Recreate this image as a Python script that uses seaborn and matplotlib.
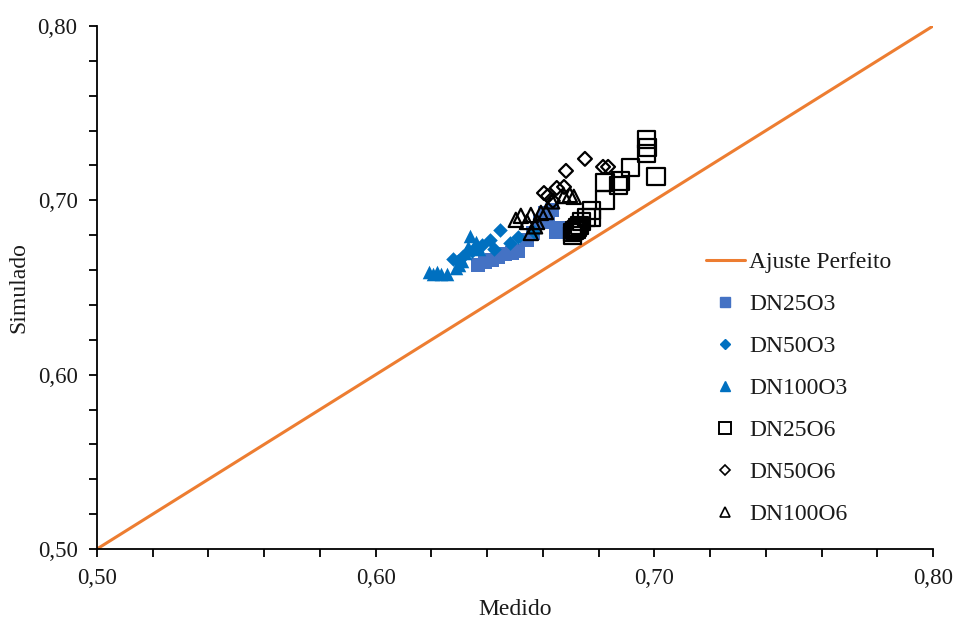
import matplotlib
matplotlib.use("Agg")
import matplotlib.pyplot as plt
from matplotlib.lines import Line2D
from matplotlib.ticker import MultipleLocator, FuncFormatter
import seaborn as sns

# Medido (x) and Simulado (y) for each series
dn25o3_x = [0.6367, 0.6392, 0.6417, 0.6439, 0.6464, 0.6489, 0.6511, 0.6543, 0.6564,
            0.6590, 0.6607, 0.6618, 0.6633, 0.6647, 0.6661]
dn25o3_y = [0.6629, 0.6647, 0.6658, 0.6675, 0.6692, 0.6698, 0.6710, 0.6773, 0.6813,
            0.6876, 0.6928, 0.6876, 0.6945, 0.6819, 0.6841]

dn50o3_x = [0.6277, 0.6295, 0.6313, 0.6346, 0.6381, 0.6410, 0.6425, 0.6446, 0.6482,
            0.6510, 0.6570]
dn50o3_y = [0.6664, 0.6650, 0.6680, 0.6710, 0.6744, 0.6770, 0.6720, 0.6830, 0.6755,
            0.6790, 0.6820]

dn100o3_x = [0.6190, 0.6206, 0.6220, 0.6235, 0.6256, 0.6290, 0.6300, 0.6310, 0.6320,
             0.6330, 0.6338, 0.6360, 0.6370]
dn100o3_y = [0.6590, 0.6580, 0.6590, 0.6575, 0.6580, 0.6610, 0.6630, 0.6650, 0.6700,
             0.6730, 0.6796, 0.6760, 0.6720]

dn25o6_x = [0.6705, 0.6708, 0.6712, 0.6719, 0.6725, 0.6730, 0.6740, 0.6758, 0.6776,
            0.6776, 0.6823, 0.6823, 0.6873, 0.6877, 0.6916, 0.6973, 0.6977, 0.6973,
            0.7006]
dn25o6_y = [0.6800, 0.6813, 0.6825, 0.6830, 0.6845, 0.6853, 0.6876, 0.6899, 0.6899,
            0.6939, 0.7002, 0.7100, 0.7083, 0.7111, 0.7186, 0.7347, 0.7301, 0.7266,
            0.7134]

dn50o6_x = [0.6604, 0.6618, 0.6636, 0.6650, 0.6676, 0.6683, 0.6751, 0.6816, 0.6834]
dn50o6_y = [0.7042, 0.7025, 0.6997, 0.7071, 0.7077, 0.7169, 0.7238, 0.7192, 0.7192]

dn100o6_x = [0.6503, 0.6521, 0.6543, 0.6557, 0.6572, 0.6557, 0.6593, 0.6611, 0.6579,
             0.6633, 0.6676, 0.6697, 0.6711]
dn100o6_y = [0.6888, 0.6911, 0.6876, 0.6916, 0.6851, 0.6813, 0.6928, 0.6933, 0.6876,
             0.6994, 0.7025, 0.7031, 0.7020]

fit_line = [0.50, 0.80]

sns.set_theme(style="ticks")
plt.rcParams["font.family"] = ["Liberation Serif", "DejaVu Serif"]
plt.rcParams["font.size"] = 17

fig = plt.figure(figsize=(9.59, 6.24), dpi=100)
ax = fig.add_axes([0.1011, 0.1202, 0.8718, 0.8381])

blue_sq = "#4472C4"
blue = "#0070C0"
orange = "#ED7D31"
ink = "#1a1a1a"

sns.lineplot(x=fit_line, y=fit_line, ax=ax, color=orange, linewidth=2.2, zorder=1)

filled = [
    (dn25o3_x, dn25o3_y, "s", blue_sq, 90),
    (dn50o3_x, dn50o3_y, "D", blue, 55),
    (dn100o3_x, dn100o3_y, "^", blue, 95),
]
for xs, ys, m, c, s in filled:
    sns.scatterplot(x=xs, y=ys, ax=ax, marker=m, color=c, s=s, linewidth=0, zorder=3)

opened = [
    (dn25o6_x, dn25o6_y, "s", 150),
    (dn50o6_x, dn50o6_y, "D", 50),
    (dn100o6_x, dn100o6_y, "^", 105),
]
for xs, ys, m, s in opened:
    sns.scatterplot(x=xs, y=ys, ax=ax, marker=m, s=s, facecolor="none",
                    edgecolor="black", linewidth=1.6, zorder=4)

ax.set_xlim(0.50, 0.80)
ax.set_ylim(0.50, 0.80)
ax.xaxis.set_major_locator(MultipleLocator(0.10))
ax.yaxis.set_major_locator(MultipleLocator(0.10))
ax.xaxis.set_minor_locator(MultipleLocator(0.02))
ax.yaxis.set_minor_locator(MultipleLocator(0.02))
fmt = FuncFormatter(lambda v, p: f"{v:.2f}".replace(".", ","))
ax.xaxis.set_major_formatter(fmt)
ax.yaxis.set_major_formatter(fmt)
ax.tick_params(which="both", direction="out", length=6, width=1.3, color="black",
               labelsize=16.5, labelcolor=ink)
ax.tick_params(axis="x", pad=8)
ax.tick_params(axis="y", pad=8)
for side in ("top", "right"):
    ax.spines[side].set_visible(False)
for side in ("left", "bottom"):
    ax.spines[side].set_color("black")
    ax.spines[side].set_linewidth(1.3)

ax.set_xlabel("Medido", fontsize=17, color=ink, labelpad=7)
ax.set_ylabel("Simulado", fontsize=17, color=ink, labelpad=6)

handles = [
    Line2D([], [], color=orange, linewidth=2.2),
    Line2D([], [], linestyle="none", marker="s", markersize=7, color=blue_sq),
    Line2D([], [], linestyle="none", marker="D", markersize=5.5, color=blue),
    Line2D([], [], linestyle="none", marker="^", markersize=7, color=blue),
    Line2D([], [], linestyle="none", marker="s", markersize=8, markerfacecolor="none",
           markeredgecolor="black", markeredgewidth=1.4),
    Line2D([], [], linestyle="none", marker="D", markersize=5.5, markerfacecolor="none",
           markeredgecolor="black", markeredgewidth=1.2),
    Line2D([], [], linestyle="none", marker="^", markersize=7, markerfacecolor="none",
           markeredgecolor="black", markeredgewidth=1.2),
]
labels = ["Ajuste Perfeito", "DN25O3", "DN50O3", "DN100O3", "DN25O6", "DN50O6", "DN100O6"]
leg = ax.legend(handles, labels, loc="upper left", bbox_to_anchor=(0.728, 0.569),
                frameon=False, fontsize=17, labelspacing=0.87, handlelength=1.65,
                handletextpad=0.2, borderaxespad=0, borderpad=0)
for t in leg.get_texts():
    t.set_color(ink)

fig.savefig("out.png", dpi=100)
